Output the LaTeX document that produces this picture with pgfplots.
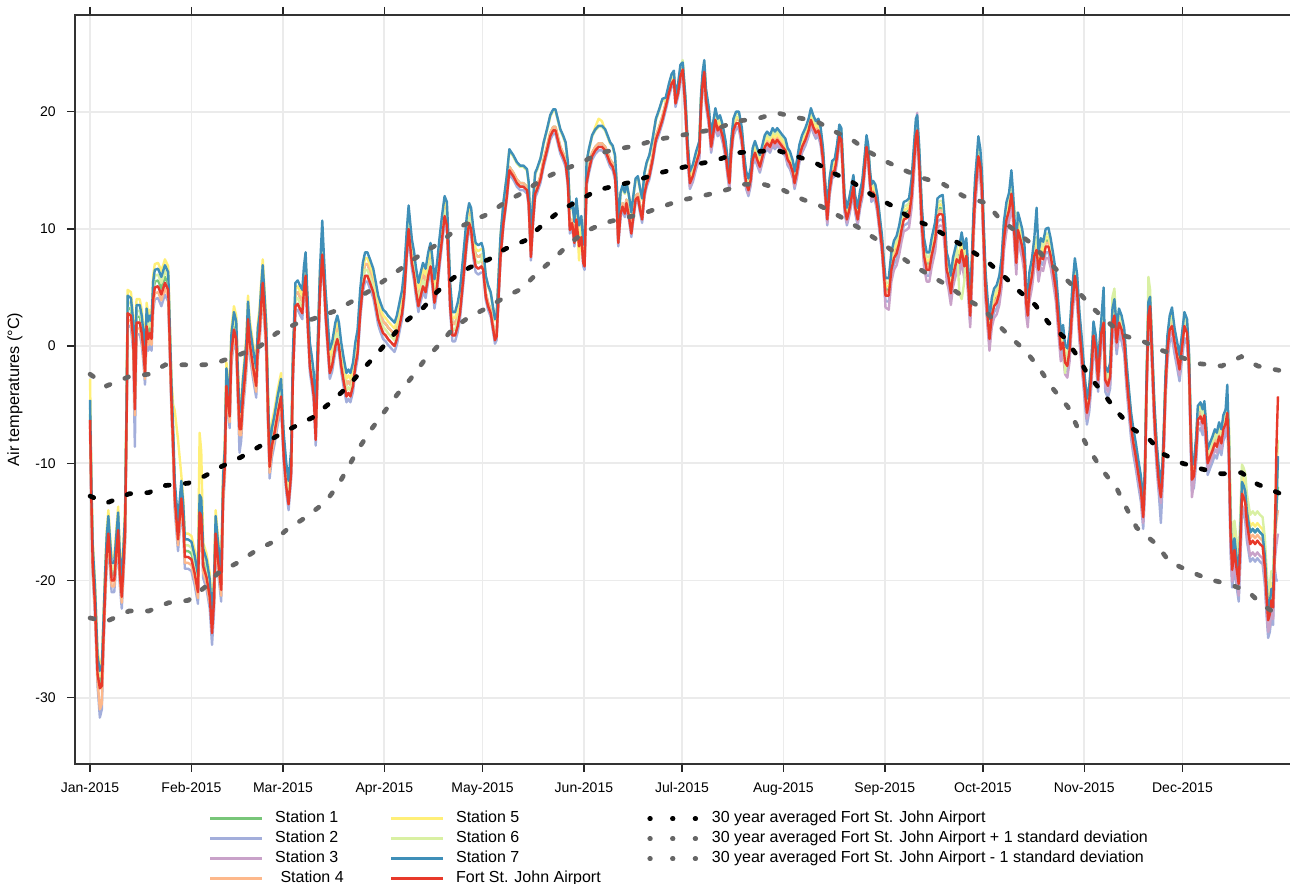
\documentclass[border=0pt]{standalone}
\usepackage{fontspec}
\setmainfont{Liberation Sans}
\usepackage{pgfplots}
\usepackage{pgfplotstable}
\pgfplotsset{compat=1.18}
\definecolor{cS1}{HTML}{78C679}
\definecolor{cS2}{HTML}{A3AEDB}
\definecolor{cS3}{HTML}{C9A2C9}
\definecolor{cS4}{HTML}{FDB88B}
\definecolor{cS5}{HTML}{FFEF78}
\definecolor{cS6}{HTML}{D9F0A3}
\definecolor{cS7}{HTML}{3F8FB8}
\definecolor{cFSJ}{HTML}{E8392A}
\definecolor{cSD}{HTML}{666666}
\pgfplotsset{
  lineleg/.style={legend image code/.code={\draw[##1,line width=2.2pt] (0pt,0pt) -- (39pt,0pt); \path (47pt,0pt);}},
  dotleg/.style={legend image code/.code={\draw[##1,line width=3.4pt,line cap=round,dash pattern=on 0.6pt off 16.4pt] (2pt,0pt) -- (38pt,0pt); \path (0pt,0pt) (47pt,0pt);}},
  stn/.style={line width=1.8pt, line join=round, forget plot},
  clim/.style={line width=3.5pt, line cap=round, dash pattern=on 3pt off 12pt, forget plot},
}
\pgfplotstableread{
d r s1 s2 s3 s4 s5 s6 s7
0 -6.3 -5.8 -7.3 -6.3 -6.8 -2.8 -5.3 -4.6
0.4 -13 -12.5 -14 -13 -13.5 -11 -12 -11.5
0.8 -18.5 -18 -19.5 -18.5 -19 -16.5 -17.5 -17
1.5 -22 -21.5 -23 -22 -22.5 -20 -21 -20.5
2.3 -28 -27.5 -29 -28 -28.5 -26 -27 -26.5
3 -29.2 -28.7 -31.7 -29.2 -31 -27.2 -28.2 -27.7
3.6 -29 -28.5 -31 -29 -30.5 -27 -28 -27.5
4.1 -25 -24.5 -26 -25 -25.5 -23 -24 -23.5
4.6 -21 -20.5 -22 -21 -21.5 -19 -20 -19.5
5.1 -17.7 -17.2 -18.7 -17.7 -18.2 -15.7 -16.7 -16.2
5.6 -16 -15.5 -17 -16 -16.5 -14 -15 -14.5
6.1 -18 -17.5 -19 -18 -18.5 -16 -17 -16.5
6.6 -20 -19.5 -21 -20 -20.5 -18 -19 -18.5
7.4 -20 -19.5 -21 -20 -20.5 -18 -19 -18.5
8.1 -17.4 -16.9 -18.4 -17.4 -17.9 -15.4 -16.4 -15.9
8.6 -15.7 -15.2 -16.7 -15.7 -16.2 -13.7 -14.7 -14.2
9.1 -19.4 -18.9 -20.4 -19.4 -19.9 -17.4 -18.4 -17.9
9.7 -21.4 -20.9 -22.4 -21.4 -21.9 -19.4 -20.4 -19.9
10.2 -18.8 -18.3 -19.8 -18.8 -19.3 -16.8 -17.8 -17.3
10.7 -16 -15.5 -17 -16 -16.5 -14 -15 -14.5
11.2 -5.7 -5.2 -6.7 -5.7 -6.2 -3.7 -4.7 -4.2
11.5 2.8 3.3 1.8 2.8 2.3 4.8 3.8 4.3
12.5 2.6 3.1 1.6 2.6 2.1 4.6 3.6 4.1
13.2 0.6 1.1 -0.4 0.6 0.1 2.6 1.6 2.1
13.7 -5.4 -4.9 -8.6 -5.4 -5.9 -3.4 -4.4 -3.9
14.2 2 2.5 1 2 1.5 4 3 3.5
15.2 2 2.5 1 2 1.5 4 3 3.5
15.8 1.1 1.6 0.1 1.1 0.6 3.1 2.1 2.6
16.3 -0.3 0.2 -1.3 -0.3 -0.8 1.7 0.7 1.2
16.8 -2.3 -1.8 -3.3 -2.3 -2.8 -0.3 -1.3 -0.8
17.3 1.7 2.2 0.7 1.7 1.2 3.7 2.7 3.2
17.8 0.6 1.1 -0.4 0.6 0.1 2.6 1.6 2.1
18.3 1.1 1.6 0.1 1.1 0.6 3.1 2.1 2.6
18.8 0.6 1.1 -0.4 0.6 0.1 2.6 1.6 2.1
19.3 4 4.5 3 4 3.5 6 5 5.5
19.8 5 5.5 4 5 4.5 7 6 6.5
20.8 5.1 5.6 4.1 5.1 4.6 7.1 6.1 6.6
21.8 4.4 4.9 3.4 4.4 3.9 6.4 5.4 5.9
22.9 5.4 5.9 4.4 5.4 4.9 7.4 6.4 6.9
23.9 4.8 5.3 3.8 4.8 4.3 6.8 5.8 6.3
24.9 -4.8 -4.3 -5.8 -4.8 -5.3 -2.8 -3.8 -3.3
25.4 -8.5 -8 -9.5 -8.5 -9 -5 -7.5 -7
25.9 -13 -12.5 -14 -13 -13.5 -5.5 -12 -11.5
26.9 -16.5 -16 -17.5 -16.5 -17 -8 -15.5 -15
27.9 -13 -12.5 -14 -13 -13.5 -11 -12 -11.5
28.5 -15 -14.5 -16 -15 -15.5 -13 -14 -13.5
29 -18 -17.5 -19 -18 -18.5 -16 -17 -16.5
30 -18 -17.5 -19 -18 -18.5 -16 -17 -16.5
31 -18.2 -17.7 -19.2 -18.2 -18.7 -16.2 -17.2 -16.7
32 -19.4 -18.9 -20.4 -19.4 -19.9 -17.4 -18.4 -17.9
33 -21 -20.5 -22 -21 -21.5 -19 -20 -19.5
33.5 -14.2 -13.7 -15.2 -14.2 -14.7 -7.4 -13.2 -12.7
34 -14.5 -14 -15.5 -14.5 -15 -9 -13.5 -13
34.6 -18.8 -18.3 -19.8 -18.8 -19.3 -16.8 -17.8 -17.3
35.6 -19.7 -19.2 -20.7 -19.7 -20.2 -17.7 -18.7 -18.2
36.6 -21.4 -20.9 -22.4 -21.4 -21.9 -19.4 -20.4 -19.9
37.3 -24.5 -24 -25.5 -24.5 -22.2 -22.5 -23.5 -23
37.9 -21.7 -21.2 -22.7 -21.7 -22.2 -19.7 -20.7 -20.2
38.4 -16 -15.5 -17 -16 -16.5 -14 -15 -14.5
39.1 -18.2 -17.7 -19.2 -18.2 -18.7 -16.2 -17.2 -16.7
40.1 -20.8 -20.3 -21.8 -20.8 -21.3 -18.8 -19.8 -19.3
40.7 -12.5 -12 -13.5 -12.5 -13 -10.5 -11.5 -11
41.2 -10.3 -9.8 -11.3 -10.3 -10.8 -8.3 -9.3 -8.8
41.7 -3.4 -2.9 -4.4 -3.4 -3.9 -1.4 -2.4 -1.9
42.7 -6 -5.5 -7 -6 -6.5 -4 -5 -4.5
43.2 -0.6 -0.1 -1.6 -0.6 -1.1 1.4 0.4 0.9
44 1.4 1.9 0.4 1.4 0.9 3.4 2.4 2.9
44.7 0.6 1.1 -0.4 0.6 0.1 2.6 1.6 2.1
45.2 -3.7 -3.2 -4.7 -3.7 -4.2 -1.7 -2.7 -2.2
45.7 -7.1 -6.6 -9.1 -7.1 -7.6 -5.1 -6.1 -5.6
46.2 -7.1 -6.6 -8.1 -7.1 -7.6 -5.1 -6.1 -5.6
46.7 -4.6 -4.1 -5.6 -4.6 -5.1 -2.6 -3.6 -3.1
47.3 -2.8 -2.3 -3.8 -2.8 -3.3 -0.8 -1.8 -1.3
47.8 -1.1 -0.6 -2.1 -1.1 -1.6 0.9 -0.1 0.4
48.3 2.3 2.8 1.3 2.3 1.8 4.3 3.3 3.8
48.8 0.3 0.8 -0.7 0.3 -0.2 2.3 1.3 1.8
49.8 -1.7 -1.2 -2.7 -1.7 -2.2 0.3 -0.7 -0.2
50.8 -3.4 -2.9 -4.4 -3.4 -3.9 -1.4 -2.4 -1.9
51.3 0 0.5 -1 0 -0.5 2 1 1.5
51.8 1.1 1.6 0.1 1.1 0.6 3.1 2.1 2.6
52.3 3.4 3.9 2.4 3.4 2.9 5.4 4.4 4.9
52.8 5.4 5.9 4.4 5.4 4.9 7.4 6.4 6.9
53.4 2.6 3.1 1.6 2.6 2.1 4.6 3.6 4.1
53.9 0 0.5 -1 0 -0.5 2 1 1.5
54.4 -5.7 -5.2 -6.7 -5.7 -6.2 -3.7 -4.7 -4.2
54.9 -10.3 -9.8 -11.3 -10.3 -10.8 -8.3 -9.3 -8.8
55.6 -8.5 -8 -9.5 -8.5 -9 -6.5 -7.5 -7
56.4 -7.4 -6.9 -8.4 -7.4 -7.9 -5.4 -6.4 -5.9
57.4 -5.7 -5.2 -6.7 -5.7 -6.2 -3.7 -4.7 -4.2
58.4 -4.3 -3.8 -5.3 -4.3 -4.8 -2.3 -3.3 -2.8
59.2 -9.4 -8.4 -9.9 -9.4 -8.4 -7.9 -8.9 -7.4
60 -12 -11 -12.5 -12 -11 -10.5 -11.5 -10
60.7 -13.5 -12.5 -14 -13.5 -12.5 -12 -13 -11.5
61.5 -10.8 -9.8 -11.3 -10.8 -9.8 -9.3 -10.3 -8.8
62 -2.8 -1.8 -3.3 -2.8 -1.8 -1.3 -2.3 -0.8
62.8 3.4 4.4 2.9 3.4 4.4 4.9 3.9 5.4
63.5 3.6 4.6 3.1 3.6 4.6 5.1 4.1 5.6
64.3 3.1 4.1 2.6 3.1 4.1 4.6 3.6 5.1
64.9 2.8 3.8 2.3 2.8 3.8 4.3 3.3 4.8
65.4 4.8 5.8 4.3 4.8 5.8 6.3 5.3 6.8
65.9 6 7 5.5 6 7 7.5 6.5 8
66.4 2.8 3.8 2.3 2.8 3.8 4.3 3.3 4.8
67.2 -1.7 -0.7 -2.2 -1.7 -0.7 -0.2 -1.2 0.3
67.9 -3.1 -2.1 -3.6 -3.1 -2.1 -1.6 -2.6 -1.1
68.4 -4.3 -3.3 -4.8 -4.3 -3.3 -2.8 -3.8 -2.3
69 -8 -7 -8.5 -8 -7 -6.5 -7.5 -6
69.6 -1.7 -0.7 -2.2 -1.7 -0.7 -0.2 -1.2 0.3
70.3 4.6 5.6 4.1 4.6 5.6 6.1 5.1 6.6
71 7.8 8.8 7.3 7.8 8.8 9.3 8.3 10.7
71.5 5.7 6.7 5.2 5.7 6.7 7.2 6.2 7.7
72 2.8 3.8 2.3 2.8 3.8 4.3 3.3 4.8
72.7 0 1 -0.5 0 1 1.5 0.5 2
73.3 -2.3 -1.3 -2.8 -2.3 -1.3 -0.8 -1.8 -0.3
74 -1.7 -0.7 -2.2 -1.7 -0.7 -0.2 -1.2 0.3
75 0 1 -0.5 0 1 1.5 0.5 2
75.6 0.6 1.6 0.1 0.6 1.6 2.1 1.1 2.6
76.1 0 1 -0.5 0 1 1.5 0.5 2
76.8 -1.7 -0.7 -2.2 -1.7 -0.7 -0.2 -1.2 0.3
77.6 -3.1 -2.1 -3.6 -3.1 -2.1 -1.6 -2.6 -1.1
78.4 -4.3 -3.3 -4.8 -4.3 -3.3 -2.8 -3.8 -2.3
79 -4 -3 -4.5 -4 -3 -2.5 -3.5 -2
79.6 -4.3 -3.3 -4.8 -4.3 -3.3 -2.8 -3.8 -2.3
80.4 -3.4 -2.4 -3.9 -3.4 -2.4 -1.9 -2.9 -1.4
81.1 -1.7 -0.7 -2.2 -1.7 -0.7 -0.2 -1.2 0.3
81.8 -0.6 0.4 -1.1 -0.6 0.4 0.9 -0.1 1.4
82.6 2.8 3.8 2.3 2.8 3.8 4.3 3.3 4.8
83.4 5.1 6.1 4.6 5.1 6.1 6.6 5.6 7.1
84.1 6 7 5.5 6 7 7.5 6.5 8
84.8 6 7 5.5 6 7 7.5 6.5 8
85.6 5.4 6.4 4.9 5.4 6.4 6.9 5.9 7.4
86.6 4.6 5.6 4.1 4.6 5.6 6.1 5.1 6.6
87.4 3.4 4.4 2.9 3.4 4.4 4.9 3.9 5.4
88.1 2.3 3.3 1.8 2.3 3.3 3.8 2.8 4.3
88.8 1.7 2.7 1.2 1.7 2.7 3.2 2.2 3.7
89.6 1.1 2.1 0.6 1.1 2.1 2.6 1.6 3.1
90.4 0.9 1.9 0.4 0.9 1.9 2.4 1.4 2.9
91.1 0.6 1.6 0.1 0.6 1.6 2.1 1.1 2.6
92.1 0.3 1.3 -0.2 0.3 1.3 1.8 0.8 2.3
93.1 0 1 -0.5 0 1 1.5 0.5 2
93.8 0.6 1.6 0.1 0.6 1.6 2.1 1.1 2.6
94.6 1.7 2.7 1.2 1.7 2.7 3.2 2.2 3.7
95.4 2.8 3.8 2.3 2.8 3.8 4.3 3.3 4.8
96.1 4.6 5.6 4.1 4.6 5.6 6.1 5.1 6.6
96.8 7.7 8.7 7.2 7.7 8.7 9.2 8.2 9.7
97.4 10 11 9.5 10 11 11.5 10.5 12
97.8 8.8 9.8 8.3 8.8 9.8 10.3 9.3 10.8
98.4 7.1 8.1 6.6 7.1 8.1 8.6 7.6 9.1
99.1 6 7 5.5 6 7 7.5 6.5 8
99.6 4.8 5.8 4.3 4.8 5.8 6.3 5.3 6.8
100.4 3.4 4.4 2.9 3.4 4.4 4.9 3.9 5.4
101.1 4.3 5.3 3.8 4.3 5.3 5.8 4.8 6.3
101.8 5.1 6.1 4.6 5.1 6.1 6.6 5.6 7.1
102.6 4.6 5.6 4.1 4.6 5.6 6.1 5.1 6.6
103.4 6 7 5.5 6 7 7.5 6.5 8
104.1 6.8 7.8 6.3 6.8 7.8 8.3 7.3 8.8
104.6 5.7 6.7 5.2 5.7 6.7 7.2 6.2 7.7
105.3 3.7 4.7 3.2 3.7 4.7 5.2 4.2 5.7
106.1 5.1 6.1 4.6 5.1 6.1 6.6 5.6 7.1
106.8 7.1 8.1 6.6 7.1 8.1 8.6 7.6 9.1
107.6 9.1 10.1 8.6 9.1 10.1 10.6 9.6 11.1
108.4 11.1 12.1 10.6 11.1 12.1 12.6 11.6 12.8
109.1 10.3 11.3 9.8 10.3 11.3 11.8 10.8 12.3
109.6 7.1 8.1 6.6 7.1 8.1 8.6 7.6 9.1
110.1 3.4 4.4 2.9 3.4 4.4 4.9 3.9 5.4
110.8 0.9 1.9 0.4 0.9 1.9 2.4 1.4 2.9
111.6 0.9 1.9 0.4 0.9 1.9 2.4 1.4 2.9
112.4 1.7 2.7 1.2 1.7 2.7 3.2 2.2 3.7
113.1 2.8 3.8 2.3 2.8 3.8 4.3 3.3 4.8
114.1 5.7 6.7 5.2 5.7 6.7 7.2 6.2 7.7
115.2 9.1 10.1 8.6 9.1 10.1 10.6 9.6 11.1
115.9 10.5 11.5 10 10.5 11.5 12 11 12.2
116.5 10 11 9.5 10 11 11.5 10.5 11.8
117.2 8 9 7.5 8 9 9.5 8.5 10
117.9 6.8 7.8 6.3 6.8 7.8 8.3 7.3 8.8
118.7 6.6 7.6 6.1 6.6 7.6 8.1 7.1 8.6
119.7 6.8 7.8 6.3 6.8 7.8 8.3 7.3 8.8
120.2 6.5 6.8 6.2 6.5 6.8 8.2 8.2 8.3
121 4.2 4.5 3.9 4.2 4.5 5.9 5.9 6
121.7 3.4 3.7 3.1 3.4 3.7 5.1 5.1 5.2
122.5 2.8 3.1 2.5 2.8 3.1 4.5 4.5 4.6
123 1.9 2.2 1.6 1.9 2.2 3.6 3.6 3.7
123.8 0.5 0.8 0.2 0.5 0.8 2.2 2.2 2.3
124.3 0.8 1.1 0.5 0.8 1.1 2.5 2.5 2.6
124.8 3.6 3.9 3.3 3.6 3.9 5.3 5.3 5.4
125.5 7.6 7.9 7.3 7.6 7.9 9.3 9.3 9.4
126.4 10.5 10.8 10.2 10.5 10.8 12.2 12.2 12.3
127.4 12.7 13 12.4 12.7 13 14.4 14.4 14.5
128.2 15 15.3 14.7 15 15.3 16.7 16.7 16.8
128.9 14.7 15 14.4 14.7 15 16.4 16.4 16.5
129.4 14.5 14.8 14.2 14.5 14.8 16.2 16.2 16.3
130.5 13.9 14.2 13.6 13.9 14.2 15.6 15.6 15.7
131.5 13.6 13.9 13.3 13.6 13.9 15.3 15.3 15.4
132.5 13.6 13.9 13.3 13.6 13.9 15.3 15.3 15.4
133.6 13.3 13.6 13 13.3 13.6 15 15 15.1
134.1 12.2 12.5 11.9 12.2 12.5 13.9 13.9 14
134.8 7.6 7.9 7.3 7.6 7.9 9.3 9.3 9.4
135.4 10.5 10.8 10.2 10.5 10.8 12.2 12.2 12.3
136.1 13 13.3 12.7 13 13.3 14.7 14.7 14.8
136.6 13.3 13.6 13 13.3 13.6 15 15 15.1
137.7 14.2 14.5 13.9 14.2 14.5 15.9 15.9 16
138.7 15.6 15.9 15.3 15.6 15.9 17.3 17.3 17.4
139.7 16.7 17 16.4 16.7 17 18.4 18.4 18.5
140.7 17.9 18.2 17.6 17.9 18.2 19.6 19.6 19.7
141.6 18.4 18.7 18.1 18.4 18.7 20.1 20.1 20.2
142.3 18.4 18.7 18.1 18.4 18.7 20.1 20.1 20.2
143 17.6 17.9 17.3 17.6 17.9 19.3 19.3 19.4
143.8 16.7 17 16.4 16.7 17 18.4 18.4 18.5
144.6 16.2 16.5 15.9 16.2 16.5 17.9 17.9 18
145.4 15.6 15.9 15.3 15.6 15.9 17.3 17.3 17.4
146.1 13.9 14.2 13.6 13.9 14.2 15.6 15.6 15.7
146.7 9.9 10.2 9.6 9.9 10.2 11.6 11.6 11.7
147.4 10.5 10.8 10.2 10.5 10.8 12.2 12.2 12.3
148.1 8.8 9.1 8.5 8.8 9.1 10.5 10.5 10.6
148.7 10.8 11.1 10.5 10.8 11.1 12.5 12.5 12.6
149.5 8.5 8.8 8.2 8.5 8.8 7.3 10.2 10.3
150.2 9.3 9.6 9 9.3 9.6 11 11 11.1
150.8 7.1 7.4 6.8 7.1 7.4 8.8 8.8 8.9
151.2 6.8 7.1 6.5 6.8 7.1 8.5 8.5 8.6
151.8 13.9 14.2 13.6 13.9 14.2 15.6 15.6 15.7
152.5 15 15.3 14.7 15 15.3 16.7 16.7 16.8
153.5 16.2 16.5 15.9 16.2 16.5 17.9 17.9 18
154.5 16.7 17 16.4 16.7 17 18.7 18.4 18.5
155.5 17 17.3 16.7 17 17.3 19.4 18.7 18.8
156.5 17 17.3 16.7 17 17.3 19.2 18.7 18.8
157.5 16.7 17 16.4 16.7 17 18.4 18.4 18.5
158.2 16.2 16.5 15.9 16.2 16.5 17.9 17.9 18
159 15.6 15.9 15.3 15.6 15.9 17.3 17.3 17.4
159.8 15.3 15.6 15 15.3 15.6 17 17 17.1
160.5 14.5 14.8 14.2 14.5 14.8 16.2 16.2 16.3
161 12.2 12.5 11.9 12.2 12.5 13.9 13.9 14
161.5 8.8 9.1 8.5 8.8 9.1 10.5 10.5 10.6
162.2 11.3 11.6 11 11.3 11.6 13 13 13.1
162.8 11.9 12.2 11.6 11.9 12.2 13.6 13.6 13.7
163.5 11.3 11.6 11 11.3 11.6 13 13 13.1
164 12.2 12.5 11.9 12.2 12.5 13.9 13.9 14
164.8 11 11.3 10.7 11 11.3 12.7 12.7 12.8
165.5 9.6 9.9 9.3 9.6 9.9 11.3 11.3 11.4
166 10.8 11.1 10.5 10.8 11.1 12.5 12.5 12.6
166.8 12.5 12.8 12.2 12.5 12.8 14.2 14.2 14.3
167.5 12.7 13 12.4 12.7 13 14.4 14.4 14.5
168.2 11.6 11.9 11.3 11.6 11.9 13.3 13.3 13.4
168.8 10.8 11.1 10.5 10.8 11.1 12.5 12.5 12.6
169.5 13 13.3 12.7 13 13.3 14.7 14.7 14.8
170.2 13.9 14.2 13.6 13.9 14.2 15.6 15.6 15.7
171 14.5 14.8 14.2 14.5 14.8 16.2 16.2 16.3
172 15.9 16.2 15.6 15.9 16.2 17.6 17.6 17.7
173 17.6 17.9 17.3 17.6 17.9 19.3 19.3 19.4
174 18.4 18.7 18.1 18.4 18.7 20.1 20.1 20.2
175 19.3 19.6 19 19.3 19.6 21 21 21.1
176 20.4 20.7 20.1 20.4 20.7 20.9 21 21.2
177 21.6 21.9 21.3 21.6 21.9 22.1 22.2 22.4
177.8 22.4 22.7 22.1 22.4 22.7 22.9 23 23.2
178.5 22.7 23 22.4 22.7 23 23.2 23.3 23.5
179 20.7 21 20.4 20.7 21 21.2 21.3 21.5
179.8 21.6 21.9 21.3 21.6 21.9 22.1 22.2 22.4
180.5 23 23.5 22.5 22.7 23.3 23.5 23.8 24
181.2 23.6 24.1 23.1 23.3 23.9 24.1 24.4 24.2
182 20.4 20.9 19.9 20.1 20.7 20.9 21.2 21.4
182.7 16.5 17 16 16.2 16.8 17 17.3 17.5
183.4 13.9 14.4 13.4 13.6 14.2 14.4 14.7 14.9
184.3 14.5 15 14 14.2 14.8 15 15.3 15.5
185.3 15.6 16.1 15.1 15.3 15.9 16.1 16.4 16.6
186.3 16.5 17 16 16.2 16.8 17 17.3 17.5
186.8 20.4 20.9 19.9 20.1 20.7 20.9 21.2 21.4
187.3 22.4 22.9 21.9 22.1 22.7 22.9 23.2 23.4
187.8 23.4 23.9 22.9 23.1 23.7 23.9 24.2 24.4
188.3 21 21.5 20.5 20.7 21.3 21.5 21.8 22
189.2 19.3 19.8 18.8 19 19.6 19.8 20.1 20.3
189.9 17 17.5 16.5 16.7 17.3 17.5 17.8 18
190.4 17.9 18.4 17.4 17.6 18.2 18.4 18.7 18.9
191.2 19.3 19.8 18.8 19 19.6 19.8 20.1 20.3
191.9 18.4 18.9 17.9 18.1 18.7 18.9 19.2 19.4
192.6 18.7 19.2 18.2 18.4 19 19.2 19.5 19.7
193.4 17.9 18.4 17.4 17.6 18.2 18.4 18.7 18.9
194.3 16.5 17 16 16.2 16.8 17 17.3 17.5
195 14.8 15.3 14.3 14.5 15.1 15.3 15.6 15.8
195.5 13.9 14.4 13.4 13.6 14.2 14.4 14.7 14.9
196 16.5 17 16 16.2 16.8 17 17.3 17.5
196.7 18.4 18.9 17.9 18.1 18.7 18.9 19.2 19.4
197.5 19 19.5 18.5 18.7 19.3 19.5 19.8 20
198.4 19 19.5 18.5 18.7 19.3 19.5 19.8 20
199.3 17.6 18.1 17.1 17.3 17.9 18.1 18.4 18.6
200 15.3 15.8 14.8 15 15.6 15.8 16.1 16.3
200.6 13.9 14.4 13.4 13.6 14.2 14.4 14.7 14.9
201.3 13.3 13.8 12.8 13 13.6 13.8 14.1 14.3
202 14.2 14.7 13.7 13.9 14.5 14.7 15 15.2
202.6 15.9 16.4 15.4 15.6 16.2 16.4 16.7 16.9
203.3 16.5 17 16 16.2 16.8 17 17.3 17.5
204 15.9 16.4 15.4 15.6 16.2 16.4 16.7 16.9
204.8 15.3 15.8 14.8 15 15.6 15.8 16.1 16.3
205.6 16.2 16.7 15.7 15.9 16.5 16.7 17 17.2
206.3 17 17.5 16.5 16.7 17.3 17.5 17.8 18
207 17.3 17.8 16.8 17 17.6 17.8 18.1 18.3
207.9 17 17.5 16.5 16.7 17.3 17.5 17.8 18
208.7 17.6 18.1 17.1 17.3 17.9 18.1 18.4 18.6
209.4 17.3 17.8 16.8 17 17.6 17.8 18.1 18.3
210.1 17.6 18.1 17.1 17.3 17.9 18.1 18.4 18.6
210.9 17.3 17.8 16.8 17 17.6 17.8 18.1 18.3
211.7 17 17.5 16.5 16.7 17.3 17.5 17.8 18
212.6 16.7 17.2 16.2 16.4 17 17.2 17.5 17.7
213.3 15.9 16.4 15.4 15.6 16.2 16.4 16.7 16.9
214 15.6 16.1 15.1 15.3 15.9 16.1 16.4 16.6
214.9 14.8 15.3 14.3 14.5 15.1 15.3 15.6 15.8
215.4 13.9 14.4 13.4 13.6 14.2 14.4 14.7 14.9
216.1 14.8 15.3 14.3 14.5 15.1 15.3 15.6 15.8
216.9 16.2 16.7 15.7 15.9 16.5 16.7 17 17.2
217.7 17 17.5 16.5 16.7 17.3 17.5 17.8 18
218.7 17.6 18.1 17.1 17.3 17.9 18.1 18.4 18.6
219.7 18.4 18.9 17.9 18.1 18.7 18.9 19.2 19.4
220.4 19.3 19.8 18.8 19 19.6 19.8 20.1 20.3
221.1 18.7 19.2 18.2 18.4 19 19.2 19.5 19.7
221.9 18.2 18.7 17.7 17.9 18.5 18.7 19 19.2
222.7 18.4 18.9 17.9 18.1 18.7 18.9 19.2 19.4
223.4 17.6 18.1 17.1 17.3 17.9 18.1 18.4 18.6
224.1 15.9 16.4 15.4 15.6 16.2 16.4 16.7 16.9
224.7 13.3 13.8 12.8 13 13.6 13.8 14.1 14.3
225.4 10.8 11.3 10.3 10.5 11.1 11.3 11.6 11.8
226.1 13.3 13.8 12.8 13 13.6 13.8 14.1 14.3
226.9 14.8 15.3 14.3 14.5 15.1 15.3 15.6 15.8
227.7 15 15.5 14.5 14.7 15.3 15.5 15.8 16
228.4 16.2 16.7 15.7 15.9 16.5 16.7 17 17.2
229.1 17.9 18.4 17.4 17.6 18.2 18.4 18.7 18.9
229.7 17.6 18.1 17.1 17.3 17.9 18.1 18.4 18.6
230.1 15.3 15.8 14.8 15 15.6 15.8 16.1 16.3
230.7 11.9 12.4 11.4 11.6 12.2 12.4 12.7 12.9
231.4 10.8 11.3 10.3 10.5 11.1 11.3 11.6 11.8
232.1 11.6 12.1 11.1 11.3 11.9 12.1 12.4 12.6
232.7 12.5 13 12 12.2 12.8 13 13.3 13.5
233.4 13.6 14.1 13.1 13.3 13.9 14.1 14.4 14.6
233.9 11.9 12.4 11.4 11.6 12.2 12.4 12.7 12.9
234.7 10.8 11.3 10.3 10.5 11.1 11.3 11.6 11.8
235.4 12.2 12.7 11.7 11.9 12.5 12.7 13 13.2
236.1 13.1 13.6 12.6 12.8 13.4 13.6 13.9 14.1
236.7 14.8 15.3 14.3 14.5 15.1 15.3 15.6 15.8
237.4 17 17.5 16.5 16.7 17.3 17.5 17.8 18
237.9 16.2 16.7 15.7 15.9 16.5 16.7 17 17.2
238.4 14.2 14.7 13.7 13.9 14.5 14.7 15 15.2
238.9 12.8 13.3 12.3 12.5 13.1 13.3 13.6 13.8
239.4 13.1 13.6 12.6 12.8 13.4 13.6 13.9 14.1
240.1 12.8 13.3 12.3 12.5 13.1 13.3 13.6 13.8
240.7 11.9 12.4 11.4 11.6 12.2 12.4 12.7 12.9
241.4 10.2 10.7 9.7 9.9 10.5 10.7 11 11.2
242.1 8.5 9 8 8.2 8.8 9 9.3 9.5
242.7 6.3 6.8 5.8 6 6.6 6.8 7.1 7.3
243.2 4.3 4.8 3.8 3.3 4.6 5.1 5.4 5.8
244.2 4.3 4.8 3.8 3.1 4.6 5.1 5.4 5.8
245 6.5 7 6 5.5 6.8 7.3 7.6 8
245.8 7.5 8 7 6.5 7.8 8.3 8.6 9
246.6 7.9 8.4 7.4 6.9 8.2 8.7 9 9.4
247.4 8.8 9.3 8.3 7.8 9.1 9.6 9.9 10.3
248.1 9.9 10.4 9.4 8.9 10.2 10.7 11 11.4
248.8 10.8 11.3 10.3 9.8 11.1 11.6 11.9 12.3
249.6 10.9 11.4 10.4 9.9 11.2 11.7 12 12.4
250.4 11.1 11.6 10.6 10.1 11.4 11.9 12.2 12.6
251.2 12.8 13.3 12.3 11.8 13.1 13.6 13.9 14.3
251.9 15.6 16.1 15.1 14.6 15.9 16.4 16.7 17.1
252.5 17.9 18.4 17.4 16.9 18.2 18.7 19 19.4
252.9 18.4 18.9 17.9 19.9 18.7 19.2 19.5 19.7
253.5 15.6 16.1 15.1 14.6 15.9 16.4 16.7 17.1
254.3 10.5 11 10 9.5 10.8 11.3 11.6 12
255 7.7 8.2 7.2 6.7 8 8.5 8.8 9.2
255.8 6.5 7 6 5.5 6.8 7.3 7.6 8
256.6 6.5 7 6 5.5 6.8 7.3 7.6 8
257.3 7.7 8.2 7.2 6.7 8 8.5 8.8 9.2
258.4 9.1 9.6 8.6 8.1 9.4 9.9 10.2 10.6
259.1 11.1 11.6 10.6 10.1 11.4 11.9 12.2 12.6
259.9 11.3 11.8 10.8 10.3 11.6 12.1 12.4 12.8
260.7 11.2 11.7 10.7 10.2 11.5 12 12.3 12.9
261.4 9.1 9.6 8.6 8.1 9.4 9.9 10.2 10.6
261.9 6.5 7 6 5.5 6.8 7.3 7.6 8
262.4 6 6.5 5.5 5 6.3 6.8 7.1 7.5
263.2 4.5 5 4 3.5 4.8 5.3 5.6 6
263.8 6 6.5 5.5 5 6.3 6.8 7.1 7.5
264.5 6.8 7.3 6.3 5.8 7.1 7.6 7.9 8.3
265 7.4 7.9 6.9 6.4 7.7 8.2 8.5 8.9
265.8 7.1 7.6 6.6 6.1 7.4 7.9 4.5 8.6
266.5 8.2 8.7 7.7 7.2 8.5 9 4 9.7
267.3 6.8 7.3 6.3 5.8 7.1 7.6 5.5 8.3
267.9 7.7 8.2 7.2 6.7 8 8.5 8.8 9.2
268.6 4.8 5.3 4.3 3.8 5.1 5.6 5.9 6.3
269.1 2.6 3.1 2.1 1.6 2.9 3.4 3.7 4.1
269.6 6 6.5 5.5 5 6.3 6.8 7.1 7.5
270.1 9.9 10.4 9.4 8.9 10.2 10.7 11 11.4
270.6 12.8 13.3 12.3 11.8 13.1 13.6 13.9 14.3
271.1 14.5 15 14 13.5 14.8 15.3 15.6 16
271.6 16.2 16.7 15.7 15.2 16.5 17 17.3 17.9
272.2 15.3 15.8 14.8 14.3 15.6 16.1 16.4 16.8
272.7 13.3 13.8 12.8 12.3 13.6 14.1 14.4 14.8
273.2 9.1 9.6 8.6 8.1 9.4 9.9 10.2 10.6
273.8 4.8 5.3 4.3 3.8 5.1 5.6 5.9 6.3
274.4 2.6 3.1 2.1 1.6 2.9 3.4 3.7 4.1
275 0.6 1.1 0.1 -0.4 0.9 1.4 1.7 2.3
275.7 2.6 3.1 2.1 1.6 2.9 3.4 3.7 4.1
276.4 3.4 3.9 2.9 2.4 3.7 4.2 4.5 4.9
277.2 3.7 4.2 3.2 2.7 4 4.5 4.8 5.2
278 4.5 5 4 3.5 4.8 5.3 5.6 6
278.7 6 6.5 5.5 5 6.3 6.8 7.1 7.5
279.4 9.1 9.6 8.6 8.1 9.4 9.9 10.2 10.6
280.2 10.8 11.3 10.3 9.8 11.1 11.6 11.9 12.3
281 11.6 12.1 11.1 10.6 11.9 12.4 12.7 13.1
281.7 13 13.5 12.5 12 13.3 13.8 14.1 15
282.2 11.6 12.1 11.1 10.6 11.9 12.4 12.7 13.1
282.7 9.1 9.6 8.6 8.1 9.4 9.9 11.5 10.6
283.2 7.1 7.6 6.6 6.1 7.4 7.9 11.3 8.6
283.7 9.9 10.4 9.4 8.9 10.2 10.7 11 11.4
284.2 9.4 9.9 8.9 8.4 9.7 10.2 10.5 10.9
285 8.5 9 8 7.5 8.8 9.3 9.6 10
285.7 7.1 7.6 6.6 6.1 7.4 7.9 8.2 8.6
286.2 3.7 4.2 3.2 2.7 4 4.5 4.8 5.2
286.7 2.6 3.1 2.1 1.6 2.9 3.4 3.7 4.1
287.2 4.8 5.3 4.3 3.8 5.1 5.6 5.9 6.3
288 6 6.5 5.5 5 6.3 6.8 7.1 7.5
288.7 7.7 8.2 7.2 6.7 8 8.5 8.8 9.2
289.4 8.2 8.7 7.7 7.2 8.5 9 9.3 11.8
290 6.5 7 6 5.5 6.8 7.3 7.6 8
290.7 7.7 8.2 7.2 6.7 8 8.5 8.8 9.2
291.4 7.4 7.9 6.9 6.4 7.7 8.2 8.5 8.9
292.2 8.5 9 8 7.5 8.8 9.3 9.6 10
293 8.5 9 8 7.5 8.8 9.3 9.6 10.1
293.7 7.7 8.2 7.2 6.7 8 8.5 8.8 9.2
294.4 6.5 7 6 5.5 6.8 7.3 7.6 8
295.3 4.8 5.3 4.3 3.8 5.1 5.6 5.9 6.3
296.1 2 2.5 1.5 1 2.3 2.8 3.1 3.5
296.8 -0.3 0.2 -0.8 -1.3 0 0.5 0.8 1.2
297.5 0.3 0.8 -0.2 -0.7 0.6 1.1 1.4 1.8
298.1 -1.4 -0.9 -1.9 -2.4 -1.1 -0.6 -2.3 0.1
298.8 -1.7 -1.2 -2.2 -2.7 -1.4 -0.9 -0.6 -0.2
299.5 -0.3 0.2 -0.8 -1.3 0 0.5 0.8 1.2
300.3 3.4 3.9 2.9 2.4 3.7 4.2 4.5 4.9
301.1 6 6.5 5.5 5 6.3 6.8 7.1 7.5
301.8 4.6 5.1 4.1 3.6 4.9 5.4 5.7 6.1
302.5 1.4 1.9 0.9 0.4 1.7 2.2 2.5 2.9
303.3 -1.1 -0.6 -1.6 -2.1 -0.8 -0.3 0 0.4
304.1 -3.7 -3.2 -4.7 -4.2 -3.4 -2.8 -3 -2.5
304.8 -5.7 -5.2 -6.7 -6.2 -5.4 -4.8 -5 -4.5
305.5 -4.6 -4.1 -5.6 -5.1 -4.3 -3.7 -3.9 -3.4
306.1 -2.6 -2.1 -3.6 -3.1 -2.3 -1.7 -1.9 -1.4
306.8 0.9 1.4 -0.1 0.4 1.2 1.8 1.6 2.1
307.5 -0.3 0.2 -1.3 -0.8 0 0.6 0.4 0.9
308.2 -2.9 -2.4 -3.9 -3.4 -2.6 -2 -2.2 -1.7
308.6 -1.1 -0.6 -2.1 -1.6 -0.8 -0.2 -0.4 0.1
309.2 1.1 1.6 0.1 0.6 1.4 2 1.8 2.3
309.9 2 2.5 1 1.5 2.3 2.9 2.7 5
310.4 -2.9 -2.4 -3.9 -3.4 -2.6 -2 -2.2 -1.7
311.2 -3.4 -2.9 -4.4 -3.9 -3.1 -2.5 -2.7 -2.2
311.9 -2.6 -2.1 -3.6 -3.1 -2.3 -1.7 -1.9 -1.4
312.6 2 2.5 1 1.5 2.3 2.9 4.2 3.2
313.2 2.6 3.1 1.6 2.1 2.9 3.5 4.9 4
313.9 0.3 0.8 -0.7 -0.2 0.6 1.2 1 1.5
314.6 2 2.5 1 1.5 2.3 2.9 2.7 3.2
315.4 1.4 1.9 0.4 0.9 1.7 2.3 2.1 2.6
316.2 0.3 0.8 -0.7 -0.2 0.6 1.2 1 1.5
316.9 -2.6 -2.1 -3.6 -3.1 -2.3 -1.7 -1.9 -1.4
317.7 -5.1 -4.6 -6.1 -5.6 -4.8 -4.2 -4.4 -3.9
318.3 -6.9 -6.4 -7.9 -7.4 -6.6 -6 -6.2 -5.7
319 -8.3 -7.8 -9.3 -8.8 -8 -7.4 -7.6 -7.1
319.7 -9.4 -8.9 -10.4 -9.9 -9.1 -8.5 -8.7 -8.2
320.5 -10.9 -10.4 -11.9 -11.4 -10.6 -10 -10.2 -9.7
321.3 -12.3 -11.8 -13.3 -12.8 -12 -11.4 -11.6 -11.1
322 -14.6 -14.1 -15.6 -15.1 -14.3 -13.7 -13.9 -13.4
322.5 -11.7 -11.2 -12.7 -12.2 -11.4 -10.8 -11 -10.5
323 -4 -3.5 -5 -4.5 -3.7 -3.1 -3.3 -2.8
323.6 2.6 3.1 1.6 2.1 2.9 3.5 5.9 3.8
324.1 3.4 3.9 2.4 2.9 3.7 4.3 4.8 4.2
324.6 -0.3 0.2 -1.3 -0.8 0 0.6 0.4 0.9
325.4 -6 -5.5 -7 -6.5 -5.7 -5.1 -5.3 -4.8
326.1 -9.4 -8.9 -10.4 -9.9 -9.1 -8.5 -8.7 -8.2
326.8 -11.7 -11.2 -12.7 -12.2 -11.4 -10.8 -11 -10.5
327.4 -12.9 -12.4 -15.1 -13.4 -12.6 -12 -12.2 -11.7
327.9 -11.1 -10.6 -12.1 -11.6 -10.8 -10.2 -10.4 -9.9
328.4 -7.4 -6.9 -8.4 -7.9 -7.1 -6.5 -6.7 -6.2
328.8 -3.7 -3.2 -4.7 -4.2 -3.4 -2.8 -3 -2.5
329.4 -0.3 0.2 -1.3 -0.8 0 0.6 0.4 0.9
330.1 1.4 1.9 0.4 0.9 1.7 2.3 2.1 2.6
330.8 1.7 2.2 0.7 1.2 2 2.6 2.4 3.3
331.6 0.3 0.8 -0.7 -0.2 0.6 1.2 1 1.5
332.4 -0.9 -0.4 -1.9 -1.4 -0.6 0 -0.2 0.3
333.1 -2 -1.5 -3 -2.5 -1.7 -1.1 -1.3 -0.8
333.8 -0.3 0.2 -1.3 -0.8 0 0.6 0.4 0.9
334.6 1.7 2.2 0.7 2.7 2 2.6 2.4 2.9
335.4 1.1 1.6 0.1 1.6 1.4 2 1.8 2.3
336 -1.7 -1.2 -2.7 -2.2 -1.4 -0.8 -1 -0.5
336.5 -7.4 -6.9 -8.4 -7.9 -7.1 -6.5 -6.7 -6.2
336.9 -11.4 -10.9 -12.4 -12.9 -11.1 -10.5 -10.7 -10.2
337.5 -11.1 -10.6 -12.1 -11.6 -10.8 -10.2 -10.4 -9.9
338.2 -8.9 -8.4 -9.9 -9.4 -8.6 -8 -8.2 -7.7
338.7 -6.3 -5.8 -7.3 -6.8 -6 -5.4 -5.6 -5.1
339.5 -6 -5.5 -7 -6.5 -5.7 -5.1 -5.3 -4.8
340.2 -6.6 -6.1 -7.6 -7.1 -6.3 -5.7 -5.9 -5.4
340.7 -5.9 -5.4 -6.9 -6.4 -5.6 -5 -5.2 -4.7
341.2 -7.7 -7.2 -8.7 -8.2 -7.4 -6.8 -7 -6.5
341.7 -10 -9.5 -11 -10.5 -9.7 -9.1 -9.3 -8.8
342.5 -9.4 -8.9 -10.4 -9.9 -9.1 -8.5 -8.7 -8.2
343.2 -8.9 -8.4 -9.9 -9.4 -8.6 -8 -8.2 -7.7
343.9 -8.3 -7.8 -9.3 -8.8 -8 -7.4 -7.6 -7.1
344.5 -8.6 -8.1 -9.6 -9.1 -8.3 -7.7 -7.9 -7.4
345.2 -7.7 -7.2 -8.7 -8.2 -7.4 -6.8 -7 -6.5
345.9 -8.3 -7.8 -9.3 -8.8 -8 -7.4 -7.6 -7.1
346.5 -7.1 -6.6 -8.1 -7.6 -6.8 -6.2 -6.4 -5.9
347.2 -6.6 -6.1 -7.6 -7.1 -6.3 -5.7 -5.9 -5.4
347.7 -5.7 -5.2 -6.7 -6.2 -5.4 -4.8 -5 -3.3
348.2 -8.9 -7.9 -10.4 -9.9 -8.4 -7.4 -6.4 -7.9
348.7 -16 -15 -17.5 -17 -15.5 -14.5 -13.5 -15
349.2 -19.1 -18.1 -20.6 -20.1 -18.6 -17.6 -16.6 -18.1
349.9 -17.4 -16.4 -18.9 -18.4 -16.9 -15.9 -14.9 -16.4
350.5 -18.9 -17.9 -20.4 -19.9 -18.4 -17.4 -16.4 -17.9
351.2 -20.3 -19.3 -21.8 -21.3 -19.8 -18.8 -17.8 -19.3
351.7 -16.9 -15.9 -18.4 -17.9 -16.4 -15.4 -14.4 -15.9
352.2 -12.6 -11.6 -14.1 -13.6 -12.1 -11.1 -10.1 -11.6
352.7 -12.9 -11.9 -14.4 -13.9 -12.4 -11.4 -10.4 -11.9
353.2 -13.4 -12.4 -14.9 -14.4 -12.9 -11.9 -10.9 -12.4
353.7 -15.1 -14.1 -16.6 -16.1 -14.6 -13.6 -12.6 -14.1
354.2 -16 -15 -17.5 -17 -15.5 -14.5 -13.5 -15
354.7 -16.9 -15.9 -18.4 -17.9 -16.4 -15.4 -14.4 -15.9
355.5 -16.6 -15.6 -18.1 -17.6 -16.1 -15.1 -14.1 -15.6
356.2 -16.9 -15.9 -18.4 -17.9 -16.4 -15.4 -14.4 -15.9
356.9 -16.6 -15.6 -18.1 -17.6 -16.1 -15.1 -14.1 -15.6
357.7 -16.9 -15.9 -18.4 -17.9 -16.4 -15.4 -14.4 -15.9
358.5 -17.1 -16.1 -18.6 -18.1 -16.6 -15.6 -14.6 -16.1
359.2 -18.9 -17.9 -20.4 -19.9 -18.4 -17.4 -16.4 -17.9
359.7 -21.4 -20.4 -22.9 -22.4 -20.9 -19.9 -18.9 -20.4
360.2 -23.4 -22.4 -24.9 -24.4 -22.9 -21.9 -20.9 -22.4
360.7 -22.9 -21.9 -24.4 -23.9 -22.4 -21.4 -20.4 -21.9
361.2 -21.7 -20.7 -23.2 -22.7 -21.2 -20.2 -19.2 -20.7
361.7 -22.3 -21.3 -23.8 -23.3 -21.8 -20.8 -19.8 -21.3
362.2 -17.4 -16.4 -18.9 -18.4 -16.9 -15.9 -14.9 -16.4
362.7 -8.9 -14 -20 -17 -15 -13 -11 -14
363.2 -4.3 -12 -20 -16 -14 -10 -8 -9.4
}\stations
\pgfplotstableread{
d v
0 -12.8
5 -13.4
12 -12.6
18 -12.5
23 -11.9
30 -11.7
35 -11.1
40 -10.3
46 -9.5
51 -8.7
57 -7.7
63 -6.8
68 -6.1
74 -4.7
79 -3.4
83 -2.1
87 -0.9
91 0.4
96 2
102 3.3
106 4.6
111 5.8
116 6.7
122 7.4
127 8.3
133 9
139 10.5
144 11.6
150 12.5
155 13.3
161 13.7
167 14.1
173 14.7
179 15.1
185 15.5
191 15.8
198 16.5
204 16.6
210 16.7
216 16.2
222 15.6
227 14.8
233 14
239 12.9
245 12
251 10.9
257 10.2
263 9.2
269 8.2
274 7.3
280 5.8
284 4.7
289 3.5
293 2
298 0.7
302 -0.9
305 -2.4
310 -4.1
314 -5.6
319 -7.1
324 -8
328 -9.2
334 -10
340 -10.5
346 -10.9
352 -10.8
357 -11.8
364 -12.6
}\meanT
\pgfplotstableread{
d v
0 -2.4
5 -3.4
12 -2.6
18 -2.4
23 -1.6
30 -1.6
35 -1.6
40 -1.3
46 -0.7
52 0
57 1.1
63 1.9
68 2.3
75 3
80 3.8
86 4.8
91 5.8
97 7
102 8
107 8.8
112 10
117 10.7
122 11.3
127 12.3
133 13.2
138 14.2
144 15
150 15.6
155 16.4
161 16.8
167 17.1
173 17.6
179 17.9
185 18.2
191 18.5
198 19.2
204 19.4
210 19.9
216 19.5
222 19.2
227 18.4
233 17.6
238 16.6
243 15.8
249 15
255 14.3
261 13.8
267 12.8
274 12.2
278 10.9
283 9.8
288 8.7
292 7.5
297 6.1
302 4.7
306 3.4
311 2.1
316 0.9
322 0.4
328 -0.4
334 -1
339 -1.5
346 -1.7
352 -0.9
357 -1.7
364 -2.1
}\upperT
\pgfplotstableread{
d v
0 -23.2
5 -23.5
12 -22.6
18 -22.6
24 -21.9
30 -21.7
35 -20.6
39 -19.4
45 -18.5
51 -17.4
56 -16.7
60 -15.7
66 -14.6
72 -13.3
76 -11.8
79 -10.3
82 -8.8
86 -7.1
90 -5.6
94 -4.1
98 -2.8
102 -1.3
107 0.2
111 1.5
116 2.5
121 3.2
127 4.2
132 4.9
137 6.3
142 7.5
146 8.6
151 9.7
157 10.5
163 10.9
169 11.3
175 11.9
180 12.4
187 12.8
193 13.2
200 13.8
206 13.8
212 13.3
218 12.5
223 12
229 11.1
235 10.1
241 9
246 8
251 7
257 6
262 5.2
268 4
273 3.2
277 2
282 0.6
286 -0.4
290 -1.8
294 -3.5
299 -5.2
302 -7
305 -8.6
309 -10.4
314 -12.2
317 -13.9
320 -15.5
326 -16.9
330 -18.4
336 -19.2
342 -19.9
348 -20.3
354 -20.9
358 -22
364 -23.1
}\lowerT
\begin{document}
\begin{tikzpicture}
\useasboundingbox (0,0) rectangle (967.5pt,663pt);
\begin{axis}[
  at={(56.25pt,90pt)}, anchor=south west,
  scale only axis, width=913.75pt, height=561.75pt,
  xmin=-4.6, xmax=367.9, ymin=-35.66, ymax=28.25,
  xtick={0,31,59,90,120,151,181,212,243,273,304,334},
  xticklabels={Jan-2015,Feb-2015,Mar-2015,Apr-2015,May-2015,Jun-2015,Jul-2015,Aug-2015,Sep-2015,Oct-2015,Nov-2015,Dec-2015},
  ytick={-30,-20,-10,0,10,20},
  tick align=outside, xtick pos=both, ytick pos=left, xticklabel pos=lower,
  major tick length=6pt,
  every tick/.style={line width=1.1pt, color=black!85},
  axis line style={line width=1.1pt, color=black!80},
  grid=major, major grid style={line width=1.4pt, color=black!8},
  tick label style={font=\fontsize{10.5}{12}\selectfont},
  xticklabel style={yshift=-4.5pt},
  yticklabel style={xshift=-5pt},
  /pgf/number format/assume math mode=true,
  ylabel={Air temperatures (°C)},
  every axis y label/.style={at={(axis description cs:-0.0493,0.5)}, rotate=90, anchor=center, font=\fontsize{12.2}{14}\selectfont},
  legend columns=3,
  legend cell align=left,
  legend style={draw=none, fill=none, at={(axis description cs:0.1096,-0.0594)}, anchor=north west,
    font=\fontsize{12}{14}\selectfont, inner sep=0pt,
    nodes={inner sep=1.5pt, text height=9pt, text depth=3pt},
    /tikz/every even column/.append style={column sep=33pt}},
]
\addplot[stn, cS1] table[x=d,y=s1] {\stations};
\addplot[stn, cS2] table[x=d,y=s2] {\stations};
\addplot[stn, cS3] table[x=d,y=s3] {\stations};
\addplot[stn, cS4] table[x=d,y=s4] {\stations};
\addplot[stn, cS5] table[x=d,y=s5] {\stations};
\addplot[stn, cS6] table[x=d,y=s6] {\stations};
\addplot[stn, cS7] table[x=d,y=s7] {\stations};
\addplot[stn, cFSJ] table[x=d,y=r] {\stations};
\addplot[clim, cSD] table[x=d,y=v] {\upperT};
\addplot[clim, cSD] table[x=d,y=v] {\lowerT};
\addplot[clim, black] table[x=d,y=v] {\meanT};
\addlegendimage{lineleg, cS1}\addlegendentry{Station 1}
\addlegendimage{lineleg, cS5}\addlegendentry{Station 5}
\addlegendimage{dotleg, black}\addlegendentry{30 year averaged Fort St. John Airport}
\addlegendimage{lineleg, cS2}\addlegendentry{Station 2}
\addlegendimage{lineleg, cS6}\addlegendentry{Station 6}
\addlegendimage{dotleg, cSD}\addlegendentry{30 year averaged Fort St. John Airport + 1 standard deviation}
\addlegendimage{lineleg, cS3}\addlegendentry{Station 3}
\addlegendimage{lineleg, cS7}\addlegendentry{Station 7}
\addlegendimage{dotleg, cSD}\addlegendentry{30 year averaged Fort St. John Airport - 1 standard deviation}
\addlegendimage{lineleg, cS4}\addlegendentry{\hspace{4pt}Station 4}
\addlegendimage{lineleg, cFSJ}\addlegendentry{Fort St. John Airport}
\end{axis}
\end{tikzpicture}
\end{document}
